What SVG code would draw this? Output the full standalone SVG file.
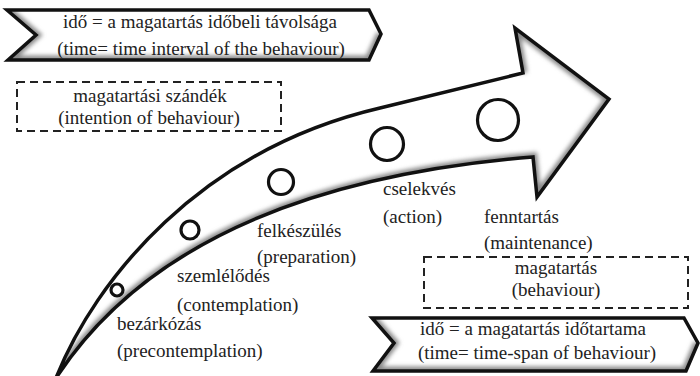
<svg xmlns="http://www.w3.org/2000/svg" width="700" height="376" viewBox="0 0 700 376">
<style>
  text { font-family: "Liberation Serif", "Times New Roman", Times, serif; font-size: 19px; fill: #222; }
  .c { text-anchor: middle; }
  .outline { fill: none; stroke: #111; stroke-width: 3.5; stroke-linejoin: miter; }
  .dash { fill: none; stroke: #222; stroke-width: 2; stroke-dasharray: 8 5; }
  .ring { fill: #fff; stroke: #111; stroke-width: 3.2; }
  .bevel { fill: none; stroke: #8a8a8a; stroke-width: 9; filter: url(#blur); }
</style>
<defs>
  <filter id="blur" x="-20%" y="-20%" width="140%" height="140%"><feGaussianBlur stdDeviation="2.2"/></filter>
  <clipPath id="clipArrow"><path id="arrowShape" d="M56,378 C95,280 200,150 380,108 L523,73 L515,28 L609,99 L537,197 L533,157 C250,180 120,280 56,378 Z"/></clipPath>
  <clipPath id="clipTop"><polygon points="7,10 369,10 381,34 369,60 8,60 36,35"/></clipPath>
  <clipPath id="clipBot"><polygon points="372,318 684,318 698,343 686,371 373,371 394,343"/></clipPath>
</defs>
<rect width="700" height="376" fill="#fff"/>

<g id="banner-top">
  <polygon points="7,10 369,10 381,34 369,60 8,60 36,35" fill="#fff"/>
  <g clip-path="url(#clipTop)">
    <polyline class="bevel" points="7,10 36,35 8,60 369,60 381,34"/>
  </g>
  <polygon class="outline" points="7,10 369,10 381,34 369,60 8,60 36,35"/>
  <text class="c" x="200" y="28">idő = a magatartás időbeli távolsága</text>
  <text class="c" x="201" y="55">(time= time interval of the behaviour)</text>
</g>

<g id="intention-box">
  <rect class="dash" x="17" y="82" width="264" height="49"/>
  <text class="c" x="150" y="102">magatartási szándék</text>
  <text class="c" x="149" y="124">(intention of behaviour)</text>
</g>

<g id="arrow">
  <use href="#arrowShape" fill="#fff"/>
  <g clip-path="url(#clipArrow)">
    <path class="bevel" d="M56,378 C120,280 250,180 533,157 L537,197 L609,99 L515,28 L523,73"/>
  </g>
  <path class="outline" d="M56,378 C95,280 200,150 380,108 L523,73 L515,28 L609,99 L537,197 L533,157 C250,180 120,280 56,378 Z"/>
</g>

<g id="stage-precontemplation">
  <circle class="ring" cx="117" cy="290" r="6"/>
  <text x="117" y="330">bezárkózás</text>
  <text x="117" y="357">(precontemplation)</text>
</g>
<g id="stage-contemplation">
  <circle class="ring" cx="190" cy="230" r="9"/>
  <text x="177" y="282">szemlélődés</text>
  <text x="177" y="311">(contemplation)</text>
</g>
<g id="stage-preparation">
  <circle class="ring" cx="281" cy="182" r="12.5"/>
  <text x="257" y="237">felkészülés</text>
  <text x="257" y="263">(preparation)</text>
</g>
<g id="stage-action">
  <circle class="ring" cx="387" cy="144" r="16.5"/>
  <text x="383" y="195">cselekvés</text>
  <text x="383" y="223">(action)</text>
</g>
<g id="stage-maintenance">
  <circle class="ring" cx="498" cy="120" r="20.5"/>
  <text x="484" y="223">fenntartás</text>
  <text x="484" y="249">(maintenance)</text>
</g>

<g id="behaviour-box">
  <rect class="dash" x="424" y="257" width="264" height="51"/>
  <text class="c" x="556" y="274">magatartás</text>
  <text class="c" x="556" y="296">(behaviour)</text>
</g>

<g id="banner-bottom">
  <polygon points="372,318 684,318 698,343 686,371 373,371 394,343" fill="#fff"/>
  <g clip-path="url(#clipBot)">
    <polyline class="bevel" points="372,318 394,343 373,371 686,371 698,343"/>
  </g>
  <polygon class="outline" points="372,318 684,318 698,343 686,371 373,371 394,343"/>
  <text class="c" x="533" y="335">idő = a magatartás időtartama</text>
  <text class="c" x="537" y="359">(time= time-span of behaviour)</text>
</g>

<g id="connectors"></g>
</svg>
